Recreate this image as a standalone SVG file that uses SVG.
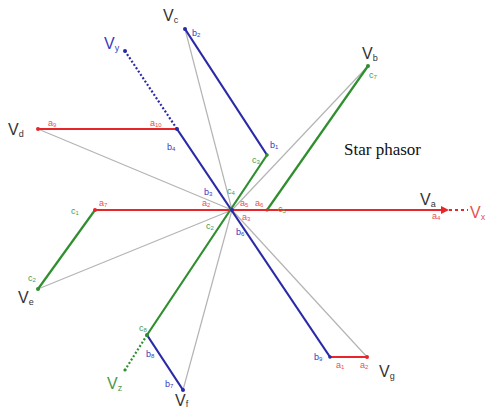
<svg xmlns="http://www.w3.org/2000/svg" width="490" height="412" viewBox="0 0 490 412">
<style>
.g{stroke:#b4b4b4;stroke-width:1.2;fill:none}
.r{stroke:#e8262a;stroke-width:2;fill:none}
.b{stroke:#2a2aa8;stroke-width:2.2;fill:none}
.gr{stroke:#2f8f2f;stroke-width:2.2;fill:none}
.dot{stroke-dasharray:2 2}
.big{font-family:"Liberation Sans",Arial,sans-serif;font-size:16px;fill:#333}
.sub{font-size:9px}
.sm{font-family:"Liberation Sans",Arial,sans-serif;font-size:9px}
.lr{fill:#e85050}.lb{fill:#3a3ac0}.lg{fill:#4a9a4a}
.title{font-family:"Liberation Serif","Times New Roman",serif;font-size:17px;fill:#111}
</style>
<rect width="490" height="412" fill="#fff"/>
<g id="connectors">
<line class="g" x1="232" y1="210" x2="185" y2="29"/>
<line class="g" x1="232" y1="210" x2="38" y2="129"/>
<line class="g" x1="232" y1="210" x2="38" y2="289"/>
<line class="g" x1="232" y1="210" x2="183" y2="390"/>
<line class="g" x1="232" y1="210" x2="367" y2="357"/>
<line class="g" x1="232" y1="210" x2="368" y2="66"/>
<line class="r" x1="38" y1="129" x2="177" y2="129"/>
<line class="r" x1="95" y1="210" x2="447" y2="210"/>
<line class="r" x1="449" y1="210" x2="468" y2="210" stroke-width="1.2" stroke-dasharray="3 3"/>
<line class="r" x1="330" y1="357" x2="367" y2="357"/>
<line class="b" x1="185" y1="29" x2="267" y2="155"/>
<line class="b" x1="177" y1="129" x2="330" y2="357"/>
<line class="b" x1="147" y1="335" x2="183" y2="390"/>
<line class="b dot" x1="177" y1="129" x2="125" y2="51"/>
<line class="gr" x1="147" y1="335" x2="267" y2="155"/>
<line class="gr" x1="267" y1="210" x2="368" y2="66"/>
<line class="gr" x1="95" y1="210" x2="38" y2="289"/>
<line class="gr dot" x1="147" y1="335" x2="125" y2="370"/>
<path d="M441,206 L449,210 L441,214 Z" fill="#e8262a"/>
<circle cx="38" cy="129" r="2" fill="#e8262a"/>
<circle cx="95" cy="210" r="2" fill="#e8262a"/>
<circle cx="267" cy="210" r="1.6" fill="#e8262a"/>
<circle cx="367" cy="357" r="2" fill="#e8262a"/>
<circle cx="185" cy="29" r="2" fill="#2a2aa8"/>
<circle cx="177" cy="129" r="2" fill="#2a2aa8"/>
<circle cx="125" cy="51" r="2" fill="#2a2aa8"/>
<circle cx="183" cy="390" r="2" fill="#2a2aa8"/>
<circle cx="330" cy="357" r="1.8" fill="#2a2aa8"/>
<circle cx="267" cy="155" r="1.8" fill="#2f8f2f"/>
<circle cx="368" cy="66" r="2" fill="#2f8f2f"/>
<circle cx="38" cy="289" r="2" fill="#2f8f2f"/>
<circle cx="147" cy="335" r="2" fill="#2f8f2f"/>
<circle cx="125" cy="370" r="1.6" fill="#2f8f2f"/>
<circle cx="232" cy="210" r="2" fill="#2a2aa8"/>
</g>
<g id="Vc"><text class="big" x="163" y="21">V<tspan class="sub" dy="2">c</tspan></text></g>
<g id="Vy"><text class="big" x="104" y="49" style="fill:#3a3ac0">V<tspan class="sub" dy="2">y</tspan></text></g>
<g id="Vd"><text class="big" x="8" y="135">V<tspan class="sub" dy="2">d</tspan></text></g>
<g id="Vb"><text class="big" x="362" y="59">V<tspan class="sub" dy="2">b</tspan></text></g>
<g id="Va"><text class="big" x="420" y="205">V<tspan class="sub" dy="2">a</tspan></text></g>
<g id="Vx"><text class="big" x="470" y="218" style="fill:#e85050">V<tspan class="sub" dy="2">x</tspan></text></g>
<g id="Ve"><text class="big" x="18" y="303">V<tspan class="sub" dy="2">e</tspan></text></g>
<g id="Vz"><text class="big" x="107" y="389" style="fill:#4a9a4a">V<tspan class="sub" dy="2">z</tspan></text></g>
<g id="Vf"><text class="big" x="175" y="406">V<tspan class="sub" dy="1">f</tspan></text></g>
<g id="Vg"><text class="big" x="379" y="377">V<tspan class="sub" dy="2">g</tspan></text></g>
<g id="title"><text class="title" x="344" y="155">Star phasor</text></g>
<g id="labels">
<text class="sm lb" x="192" y="36">b<tspan font-size="6" dy="1">2</tspan></text>
<text class="sm lb" x="270" y="148">b<tspan font-size="6" dy="1">1</tspan></text>
<text class="sm lg" x="252" y="163">c<tspan font-size="6" dy="1">3</tspan></text>
<text class="sm lg" x="369" y="78">c<tspan font-size="6" dy="1">7</tspan></text>
<text class="sm lr" x="48" y="126">a<tspan font-size="6" dy="1">9</tspan></text>
<text class="sm lr" x="150" y="126">a<tspan font-size="6" dy="1">10</tspan></text>
<text class="sm lb" x="167" y="150">b<tspan font-size="6" dy="1">4</tspan></text>
<text class="sm lb" x="204" y="195">b<tspan font-size="6" dy="1">3</tspan></text>
<text class="sm lg" x="227" y="194">c<tspan font-size="6" dy="1">4</tspan></text>
<text class="sm lr" x="202" y="206">a<tspan font-size="6" dy="1">2</tspan></text>
<text class="sm lr" x="240" y="206">a<tspan font-size="6" dy="1">5</tspan></text>
<text class="sm lr" x="255" y="206">a<tspan font-size="6" dy="1">6</tspan></text>
<text class="sm lg" x="278" y="212">c<tspan font-size="6" dy="1">5</tspan></text>
<text class="sm lr" x="242" y="220">a<tspan font-size="6" dy="1">3</tspan></text>
<text class="sm lg" x="206" y="229">c<tspan font-size="6" dy="1">2</tspan></text>
<text class="sm lb" x="236" y="235">b<tspan font-size="6" dy="1">6</tspan></text>
<text class="sm lg" x="71" y="214">c<tspan font-size="6" dy="1">1</tspan></text>
<text class="sm lr" x="99" y="206">a<tspan font-size="6" dy="1">7</tspan></text>
<text class="sm lg" x="28" y="281">c<tspan font-size="6" dy="1">2</tspan></text>
<text class="sm lg" x="139" y="331">c<tspan font-size="6" dy="1">8</tspan></text>
<text class="sm lb" x="146" y="357">b<tspan font-size="6" dy="1">8</tspan></text>
<text class="sm lb" x="165" y="387">b<tspan font-size="6" dy="1">7</tspan></text>
<text class="sm lb" x="314" y="360">b<tspan font-size="6" dy="1">9</tspan></text>
<text class="sm lr" x="336" y="368">a<tspan font-size="6" dy="1">1</tspan></text>
<text class="sm lr" x="360" y="368">a<tspan font-size="6" dy="1">2</tspan></text>
<text class="sm lr" x="432" y="219">a<tspan font-size="6" dy="1">4</tspan></text>
</g>
</svg>
